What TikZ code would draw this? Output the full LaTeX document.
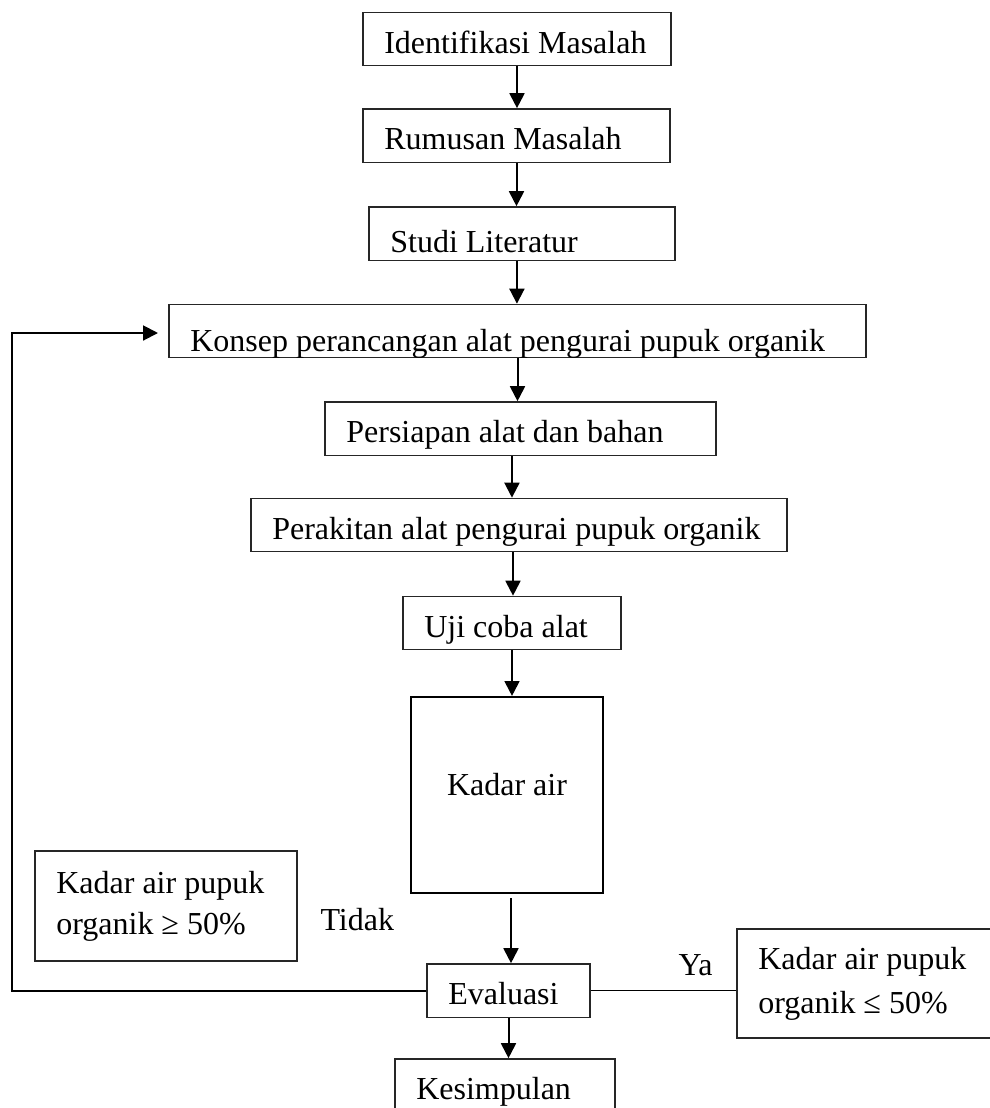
\documentclass[tikz,border=0pt]{standalone}
\usepackage{fontspec}
\setmainfont{Liberation Serif}
\usetikzlibrary{arrows.meta}

\begin{document}
\begin{tikzpicture}[x=0.375pt, y=-0.375pt, font=\fontsize{12}{15.4}\selectfont,
    >={Triangle[width=5.6pt,length=5.6pt]},
    kotak/.style={draw=black!85, line width=0.5pt, align=flush left, inner xsep=8pt, inner ysep=0pt, minimum height=20pt, text height=13pt, text depth=2.5pt},
    ganda/.style={draw=black!85, line width=0.5pt, align=flush left, inner xsep=8pt, inner ysep=0pt},
    besar/.style={draw, line width=0.8pt, align=center, text height=4pt, text depth=4pt},
    panah/.style={line width=0.75pt}]
    \useasboundingbox (0,0) rectangle (990,1108);

    \node[kotak, text width=99.5pt] (idm) at (517,39) {Identifikasi Masalah};
    \node[kotak, text width=99.1pt] (rum) at (516.5,135.5) {Rumusan Masalah};
    \node[kotak, text width=98.75pt, text height=14.5pt, text depth=0.25pt] (lit) at (522,233.5) {Studi Literatur};
    \node[kotak, text width=245.4pt, text height=15.5pt, text depth=0.5pt] (kon) at (517.5,331) {Konsep perancangan alat pengurai pupuk organik};
    \node[kotak, text width=130.6pt] (per) at (520.5,428.5) {Persiapan alat dan bahan};
    \node[kotak, text width=185pt] (rak) at (519,525) {Perakitan alat pengurai pupuk organik};
    \node[kotak, text width=65.75pt] (uji) at (512,623) {Uji coba alat};
    \node[besar, minimum width=72pt, minimum height=73.5pt] (kad) at (507,795) {Kadar air};
    \node[ganda, text width=82.25pt, minimum height=41.25pt] (lebih) at (166,906) {Kadar air pupuk\\organik ≥ 50\%};
    \node[kotak, text width=45.1pt] (eva) at (508.5,990.5) {Evaluasi};
    \node[ganda, text width=80.75pt, minimum height=40.9pt, font=\fontsize{12}{16.5}\selectfont] (kurang) at (866,983.5) {Kadar air pupuk\\organik ≤ 50\%};
    \node[kotak, text width=66.5pt] (kes) at (505,1085.5) {Kesimpulan};
    \node[anchor=base west, inner sep=0pt] (tdk) at (320,930) {Tidak};
    \node[anchor=base west, inner sep=0pt] (ya) at (678,975) {Ya};

    \coordinate (sudut) at (12,333);
    \coordinate (masuk) at (158,333);

    \draw[->, panah] (idm.south) -- (idm.south |- rum.north);
    \draw[->, panah] (rum.south) -- (rum.south |- lit.north);
    \draw[->, panah] ([xshift=-1.9pt]lit.south) -- ([xshift=-1.9pt]lit.south |- kon.north);
    \draw[->, panah] (kon.south) -- (kon.south |- per.north);
    \draw[->, panah] ([xshift=-3.2pt]per.south) -- ([xshift=-3.2pt]per.south |- rak.north);
    \draw[->, panah] ([xshift=-2.25pt]rak.south) -- ([xshift=-2.25pt]rak.south |- uji.north);
    \draw[->, panah] (uji.south) -- (uji.south |- kad.north);
    \draw[->, panah, shorten <=1.5pt] ([xshift=1.5pt]kad.south) -- ([xshift=1.5pt]kad.south |- eva.north);
    \draw[->, panah] (eva.south) -- (eva.south |- kes.north);

    \draw[->, panah] (eva.west) -| (sudut) -- (masuk);
    \draw[line width=0.6pt] (eva.east) -- (eva.east -| kurang.west);
\end{tikzpicture}
\end{document}
